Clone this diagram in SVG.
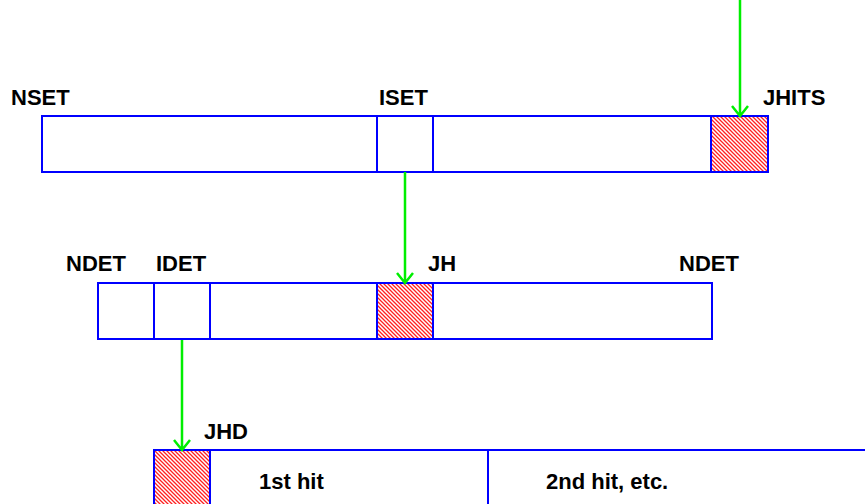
<svg xmlns="http://www.w3.org/2000/svg" width="865" height="504" viewBox="0 0 865 504">
<style>
.box{fill:none;stroke:#0000ff;stroke-width:2}
.lbl{font-family:"Liberation Sans",Arial,sans-serif;font-weight:bold;font-size:22px;fill:#000}
.arr{stroke:#00ee00;stroke-width:2.5;fill:none}
</style>
<defs>
<pattern id="hatch" width="4" height="4" patternUnits="userSpaceOnUse">
<rect width="4" height="4" fill="#fff"/>
<path d="M-1,-1 L5,5 M-1,3 L1,5 M3,-1 L5,1" stroke="#ff2020" stroke-width="1.3"/>
</pattern>
</defs>
<rect width="865" height="504" fill="#fff"/>
<g id="top-array">
<rect x="711" y="116" width="57" height="56" fill="url(#hatch)"/>
<rect class="box" x="42" y="116" width="726" height="56"/>
<line class="box" x1="377" y1="116" x2="377" y2="172"/>
<line class="box" x1="433" y1="116" x2="433" y2="172"/>
<line class="box" x1="711" y1="116" x2="711" y2="172"/>
<text class="lbl" x="11" y="105">NSET</text>
<text class="lbl" x="379" y="105">ISET</text>
<text class="lbl" x="763" y="105">JHITS</text>
</g>
<g id="middle-array">
<rect x="377" y="283" width="56" height="56" fill="url(#hatch)"/>
<rect class="box" x="98" y="283" width="614" height="56"/>
<line class="box" x1="154" y1="283" x2="154" y2="339"/>
<line class="box" x1="210" y1="283" x2="210" y2="339"/>
<line class="box" x1="377" y1="283" x2="377" y2="339"/>
<line class="box" x1="433" y1="283" x2="433" y2="339"/>
<text class="lbl" x="66" y="271">NDET</text>
<text class="lbl" x="156" y="271">IDET</text>
<text class="lbl" x="428" y="271">JH</text>
<text class="lbl" x="679" y="271">NDET</text>
</g>
<g id="bottom-array">
<rect x="154" y="450" width="56" height="60" fill="url(#hatch)"/>
<rect class="box" x="154" y="450" width="720" height="60"/>
<line class="box" x1="210" y1="450" x2="210" y2="510"/>
<line class="box" x1="488" y1="450" x2="488" y2="510"/>
<text class="lbl" x="204" y="439">JHD</text>
<text class="lbl" x="259" y="489">1st hit</text>
<text class="lbl" x="546" y="489">2nd hit, etc.</text>
</g>
<g id="connectors">
<path class="arr" d="M740,0 V115 M732,106 L740,116 L748,106"/>
<path class="arr" d="M405,172 V282 M397,273 L405,283 L413,273"/>
<path class="arr" d="M182,340 V449 M174,440 L182,450 L190,440"/>
</g>
</svg>
